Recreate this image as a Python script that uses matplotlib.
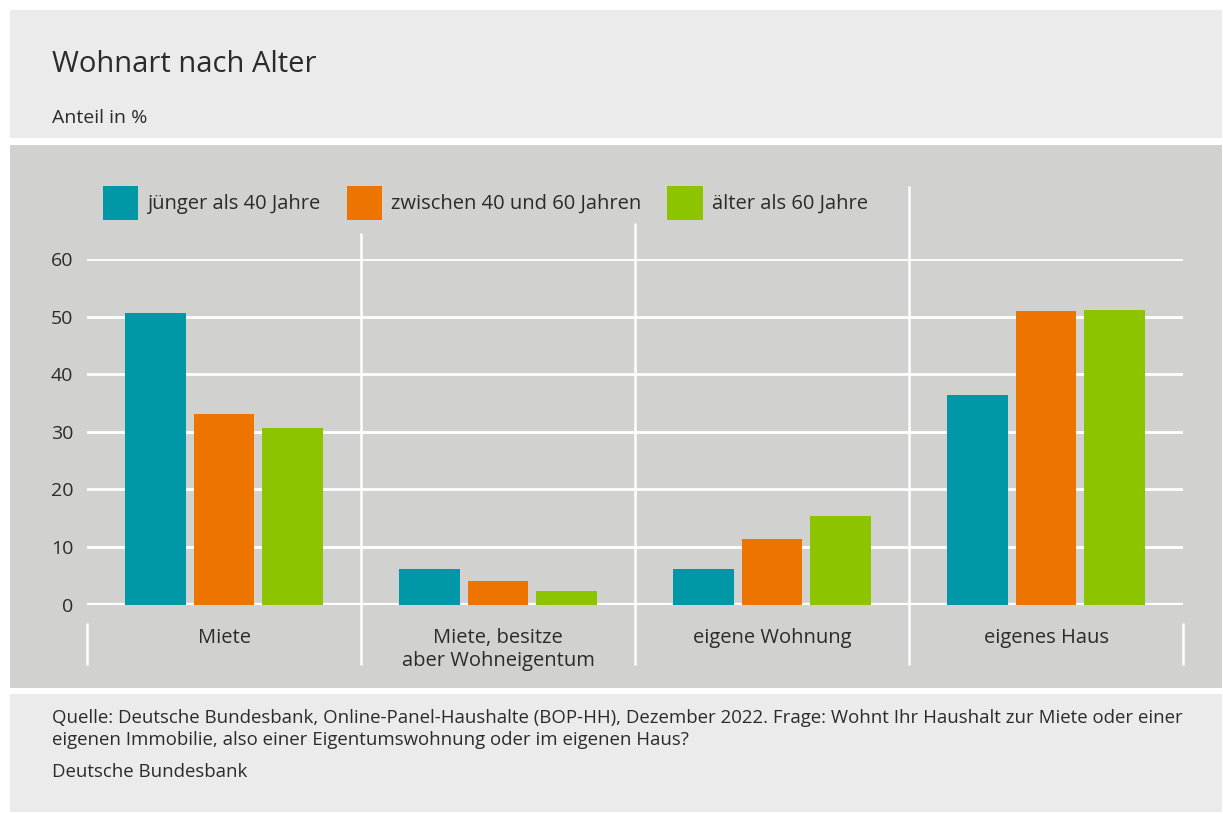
import matplotlib
matplotlib.use("Agg")
import matplotlib.pyplot as plt
from matplotlib.patches import Rectangle
import matplotlib.transforms as mtransforms

plt.rcParams['font.family'] = ['Open Sans', 'DejaVu Sans']

categories = ["Miete", "Miete, besitze\naber Wohneigentum", "eigene Wohnung", "eigenes Haus"]
series_names = ["jünger als 40 Jahre", "zwischen 40 und 60 Jahren", "älter als 60 Jahre"]
young = [50.6, 6.2, 6.2, 36.3]
middle = [33.0, 4.1, 11.3, 51.0]
old = [30.6, 2.4, 15.3, 51.2]
yticks = [0, 10, 20, 30, 40, 50, 60]

colors = ["#0098a6", "#ee7400", "#8dc400"]
text_col = "#2b2b2b"

W, H = 1223, 814
fig = plt.figure(figsize=(W / 100, H / 100), dpi=100)
fig.patch.set_facecolor("white")


def panel(x0, y0, x1, y1, color):
    r = Rectangle((x0 / W, 1 - y1 / H), (x1 - x0) / W, (y1 - y0) / H,
                  transform=fig.transFigure, facecolor=color, edgecolor="none", zorder=-10)
    fig.add_artist(r)


panel(10, 10, 1222, 138, "#ebebeb")
panel(10, 145, 1222, 688, "#d1d1d0")
panel(10, 694, 1222, 812, "#ebebeb")

fig.text(52 / W, 1 - 64 / H, "Wohnart nach Alter", fontsize=21, color=text_col, va="center")
fig.text(52 / W, 1 - 118 / H, "Anteil in %", fontsize=14, color=text_col, va="center")

ax = fig.add_axes([87 / W, 1 - 604.5 / H, 1096 / W, 345.5 / H])
ax.set_facecolor("none")

x = list(range(len(categories)))
width = 0.22
off = 0.25
series = [young, middle, old]
bars = []
for i, vals in enumerate(series):
    b = ax.bar([xi + (i - 1) * off for xi in x], vals, width=width, color=colors[i],
               label=series_names[i], zorder=2)
    bars.append(b)

ax.set_xlim(-0.5, len(categories) - 0.5)
ax.set_ylim(0, 60)
ax.set_yticks(yticks)
ax.yaxis.grid(True, color="white", linewidth=2)
ax.set_axisbelow(True)
ax.axhline(0, color="white", linewidth=3.8, zorder=1)
for s in ax.spines.values():
    s.set_visible(False)
ax.tick_params(axis="both", length=0, labelsize=14.5, colors=text_col)
ax.tick_params(axis="y", pad=10, labelsize=14)
ax.set_xticks(x)
ax.set_xticklabels(categories)
ax.tick_params(axis="x", pad=17)

# group separators
trans = mtransforms.blended_transform_factory(ax.transData, ax.transAxes)
bottom = (604.5 - 665) / 345.5
sep_tops = [233, 223, 186]
for k, top in enumerate(sep_tops):
    ax.plot([k + 0.5, k + 0.5], [bottom, (604.5 - top) / 345.5], color="white",
            linewidth=1.8, transform=trans, clip_on=False, solid_capstyle="butt")
for xe in [-0.5, len(categories) - 0.5]:
    ax.plot([xe, xe], [bottom, (604.5 - 623) / 345.5], color="white",
            linewidth=1.8, transform=trans, clip_on=False, solid_capstyle="butt")

leg = ax.legend(handles=bars, loc="upper left", bbox_to_anchor=(103 / W, 1 - 186 / H),
                bbox_transform=fig.transFigure, ncol=3, frameon=False, fontsize=14.5,
                borderpad=0, borderaxespad=0, handlelength=1.75, handleheight=2.2,
                handletextpad=0.45, columnspacing=1.3, labelcolor=text_col)

fig.text(52 / W, 1 - 709 / H,
         "Quelle: Deutsche Bundesbank, Online-Panel-Haushalte (BOP-HH), Dezember 2022. Frage: Wohnt Ihr Haushalt zur Miete oder einer\n"
         "eigenen Immobilie, also einer Eigentumswohnung oder im eigenen Haus?",
         fontsize=13.4, color=text_col, va="top", linespacing=1.32)
fig.text(52 / W, 1 - 772 / H, "Deutsche Bundesbank", fontsize=13.4, color=text_col, va="center")

fig.savefig("out.png", dpi=100)
